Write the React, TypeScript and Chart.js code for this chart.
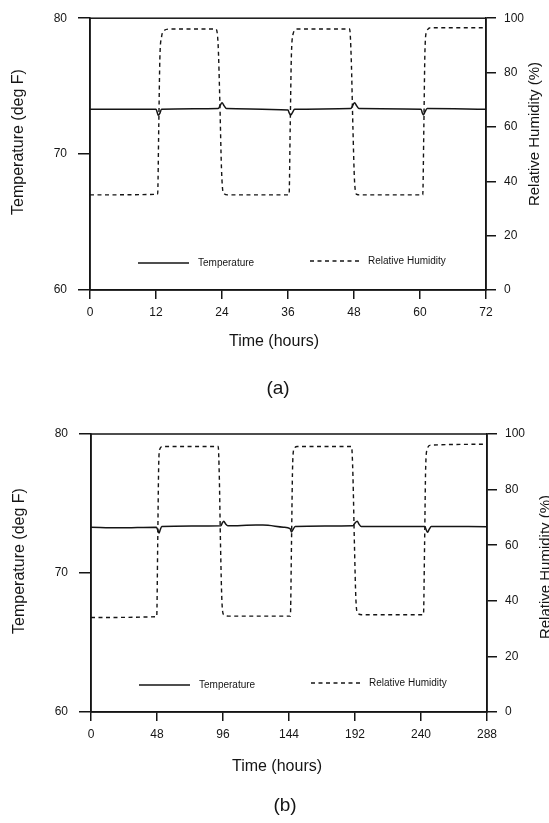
import React, { useEffect, useRef } from "react";
import { Chart, registerables } from "chart.js";

Chart.register(...registerables);

const FONT = "'Liberation Sans', Arial, Helvetica, sans-serif";
const INK = "#151515";

// ---------- Panel (a): 72 hours ----------
const tempTimeA = [0, 12.0, 12.2, 12.4, 12.7, 13.0, 23.3, 23.7, 24.0, 24.4, 24.8, 36.0, 36.2, 36.5, 36.8, 37.2, 47.4, 47.8, 48.1, 48.5, 48.9, 60.2, 60.4, 60.6, 60.9, 61.3, 72];
const tempA = [73.3, 73.3, 73.1, 72.85, 73.0, 73.3, 73.35, 73.6, 73.78, 73.55, 73.35, 73.25, 73.05, 72.88, 73.05, 73.3, 73.35, 73.6, 73.78, 73.55, 73.35, 73.3, 73.05, 72.88, 73.1, 73.35, 73.3];
const rhTimeA = [0, 12.3, 12.5, 12.7, 13.0, 13.5, 14.5, 22.9, 23.3, 23.6, 23.9, 24.2, 25, 36.2, 36.4, 36.6, 36.9, 37.6, 47.2, 47.5, 47.8, 48.1, 48.5, 49, 60.5, 60.7, 60.9, 61.2, 62, 72];
const rhA = [35, 35.2, 60, 85, 93, 95.5, 96, 96, 90, 70, 45, 36, 35, 35, 60, 85, 94, 96, 96, 85, 60, 40, 35.2, 35, 35, 60, 88, 95, 96.5, 96.5];

// ---------- Panel (b): 288 hours ----------
const tempTimeB = [0, 20, 47.5, 48.5, 49.5, 50.3, 51.5, 94.5, 95.5, 96.6, 97.8, 99.5, 120, 125, 140, 144.8, 145.8, 146.8, 148.5, 190.5, 192.0, 193.6, 195.0, 196.5, 242.8, 243.8, 244.8, 246.0, 247.5, 288];
const tempB = [73.3, 73.25, 73.3, 73.1, 72.88, 73.1, 73.35, 73.4, 73.6, 73.72, 73.55, 73.4, 73.45, 73.45, 73.3, 73.2, 72.95, 73.1, 73.35, 73.4, 73.6, 73.72, 73.5, 73.35, 73.35, 73.1, 72.93, 73.15, 73.35, 73.33];
const rhTimeB = [0, 47.8, 48.5, 49.2, 50.0, 52, 92.5, 93.3, 94.2, 95.2, 96.5, 100, 145, 145.8, 146.6, 147.6, 150, 189.5, 190.5, 191.6, 192.7, 194, 197, 241.8, 242.6, 243.4, 244.5, 247, 288];
const rhB = [34, 34.3, 60, 88, 94.5, 95.5, 95.5, 85, 60, 40, 35, 34.5, 34.5, 60, 88, 94.5, 95.5, 95.5, 85, 60, 40, 35.5, 35, 35, 60, 88, 94.5, 96, 96.3];

// ---------- Axes and labels ----------
const tempRange = [60, 80];
const tempStep = 10;
const rhRange = [0, 100];
const rhStep = 20;
const xMaxA = 72;
const xStepA = 12;
const xMaxB = 288;
const xStepB = 48;
const seriesLabels = ["Temperature", "Relative Humidity"];
const xTitle = "Time (hours)";
const leftTitle = "Temperature (deg F)";
const rightTitle = "Relative Humidity (%)";
const panelLabels = ["(a)", "(b)"];

const toPoints = (xs: number[], ys: number[]) => xs.map((x, i) => ({ x, y: ys[i] }));

const DASH = [4, 3.5];

const decorPlugin = {
  id: "decor",
  afterDraw(chart: any, _args: any, opts: any) {
    const { ctx, chartArea: a } = chart;
    ctx.save();
    // frame
    ctx.strokeStyle = INK;
    ctx.lineWidth = 1.5;
    ctx.strokeRect(a.left, a.top, a.right - a.left, a.bottom - a.top);

    // legend inside plot
    const ly = a.bottom - 27;
    ctx.fillStyle = INK;
    ctx.font = `10px ${FONT}`;
    ctx.textAlign = "left";
    ctx.textBaseline = "middle";
    ctx.lineWidth = 1.4;
    ctx.beginPath();
    ctx.moveTo(a.left + 48, ly);
    ctx.lineTo(a.left + 99, ly);
    ctx.stroke();
    ctx.fillText(seriesLabels[0], a.left + 108, ly);
    ctx.lineWidth = 1.3;
    ctx.setLineDash(DASH);
    ctx.beginPath();
    ctx.moveTo(a.left + 220, ly - 2);
    ctx.lineTo(a.left + 269, ly - 2);
    ctx.stroke();
    ctx.setLineDash([]);
    ctx.fillText(seriesLabels[1], a.left + 278, ly - 2);

    // x title
    ctx.font = `16px ${FONT}`;
    ctx.textAlign = "center";
    ctx.textBaseline = "middle";
    ctx.fillText(xTitle, opts.xTitleX, opts.xTitleY);

    // left title
    ctx.save();
    ctx.translate(opts.leftTitleX, opts.leftTitleY);
    ctx.rotate(-Math.PI / 2);
    ctx.textBaseline = "top";
    ctx.textAlign = "center";
    ctx.fillText(leftTitle, 0, 0);
    ctx.restore();

    // right title (reads bottom to top)
    ctx.save();
    ctx.font = `15px ${FONT}`;
    ctx.translate(opts.rightTitleX, opts.rightTitleY);
    ctx.rotate(-Math.PI / 2);
    ctx.textBaseline = "top";
    ctx.textAlign = "center";
    ctx.fillText(rightTitle, 0, 0);
    ctx.restore();

    // panel label
    ctx.font = `19px ${FONT}`;
    ctx.textAlign = "center";
    ctx.textBaseline = "middle";
    ctx.fillText(opts.panel, opts.panelX, opts.panelY);
    ctx.restore();
  },
};

type PanelProps = {
  height: number;
  top: number;
  bottom: number;
  left: number;
  right: number;
  xMax: number;
  xStep: number;
  tempTime: number[];
  temp: number[];
  rhTime: number[];
  rh: number[];
  decor: any;
};

function Panel(p: PanelProps) {
  const ref = useRef<HTMLCanvasElement | null>(null);
  useEffect(() => {
    if (!ref.current) return;
    const tickFont = { family: FONT, size: 12 };
    const chart = new Chart(ref.current, {
      type: "line",
      data: {
        datasets: [
          {
            label: seriesLabels[0],
            data: toPoints(p.tempTime, p.temp),
            yAxisID: "yT",
            borderColor: INK,
            borderWidth: 1.5,
            pointRadius: 0,
            cubicInterpolationMode: "monotone",
          },
          {
            label: seriesLabels[1],
            data: toPoints(p.rhTime, p.rh),
            yAxisID: "yH",
            borderColor: INK,
            borderWidth: 1.4,
            borderDash: DASH,
            pointRadius: 0,
            cubicInterpolationMode: "monotone",
          },
        ],
      },
      options: {
        responsive: false,
        animation: false,
        events: [],
        layout: { padding: { top: p.top, bottom: 0, left: 0, right: 0 } },
        plugins: {
          legend: { display: false },
          tooltip: { enabled: false },
          decor: p.decor,
        } as any,
        scales: {
          x: {
            type: "linear",
            min: 0,
            max: p.xMax,
            ticks: { stepSize: p.xStep, font: tickFont, color: INK, padding: 6, maxRotation: 0 },
            grid: { drawOnChartArea: false, tickLength: 9, color: INK, lineWidth: 1.5 },
            border: { color: INK, width: 1.5 },
            afterFit: (s: any) => {
              s.height = p.height - p.bottom;
            },
          },
          yT: {
            type: "linear",
            position: "left",
            min: tempRange[0],
            max: tempRange[1],
            ticks: { stepSize: tempStep, font: tickFont, color: INK, padding: 11 },
            grid: { drawOnChartArea: false, tickLength: 12, color: INK, lineWidth: 1.5 },
            border: { color: INK, width: 1.5 },
            afterFit: (s: any) => {
              s.width = p.left;
            },
          },
          yH: {
            type: "linear",
            position: "right",
            min: rhRange[0],
            max: rhRange[1],
            ticks: { stepSize: rhStep, font: tickFont, color: INK, padding: 8 },
            grid: { drawOnChartArea: false, tickLength: 10, color: INK, lineWidth: 1.5 },
            border: { color: INK, width: 1.5 },
            afterFit: (s: any) => {
              s.width = 549 - p.right;
            },
          },
        },
      } as any,
      plugins: [decorPlugin],
    });
    return () => chart.destroy();
  }, []);
  return <canvas ref={ref} width={549} height={p.height} style={{ display: "block", width: 549, height: p.height }} />;
}

export default function App() {
  return (
    <div style={{ position: "absolute", left: 0, top: 0, width: 549, height: 823, background: "#fff", overflow: "hidden" }}>
      <Panel
        height={412}
        top={14}
        bottom={290}
        left={90}
        right={486}
        xMax={xMaxA}
        xStep={xStepA}
        tempTime={tempTimeA}
        temp={tempA}
        rhTime={rhTimeA}
        rh={rhA}
        decor={{ panel: panelLabels[0], panelX: 278, panelY: 389, xTitleX: 274, xTitleY: 342, leftTitleX: 11, leftTitleY: 142, rightTitleX: 527, rightTitleY: 134 }}
      />
      <Panel
        height={411}
        top={22}
        bottom={300}
        left={91}
        right={487}
        xMax={xMaxB}
        xStep={xStepB}
        tempTime={tempTimeB}
        temp={tempB}
        rhTime={rhTimeB}
        rh={rhB}
        decor={{ panel: panelLabels[1], panelX: 285, panelY: 394, xTitleX: 277, xTitleY: 355, leftTitleX: 12, leftTitleY: 149, rightTitleX: 538, rightTitleY: 155 }}
      />
    </div>
  );
}
